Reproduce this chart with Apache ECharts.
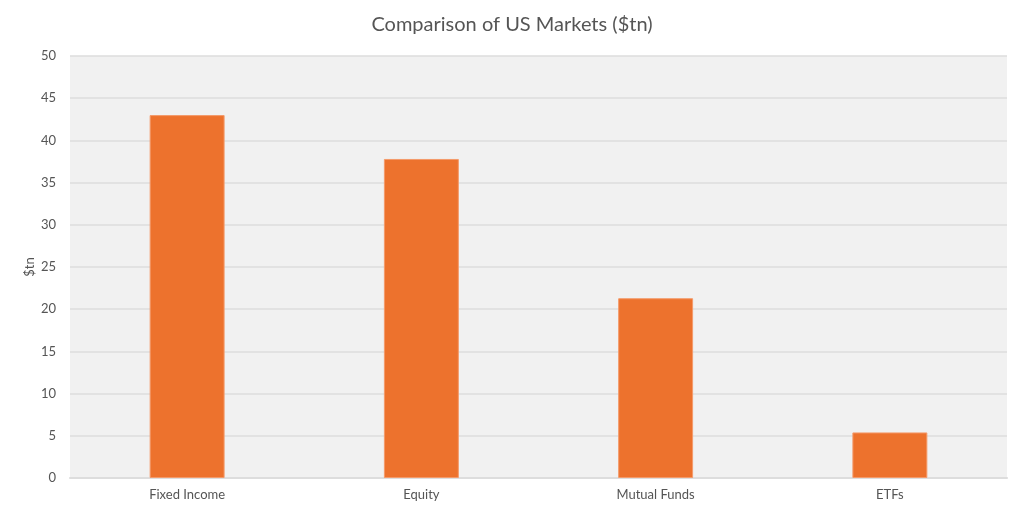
<!DOCTYPE html>
<html lang="en">
<head>
    <meta charset="UTF-8">
    <title>Comparison of US Markets ($tn)</title>
    <script src="https://cdn.jsdelivr.net/npm/echarts@6/dist/echarts.min.js"></script>
    <style>
        html, body { margin: 0; padding: 0; background: #fff; }
        #main { width: 1024px; height: 513px; }
    </style>
</head>
<body>
<div id="main"></div>
<script type="text/javascript">
    // data
    var categories = ['Fixed Income', 'Equity', 'Mutual Funds', 'ETFs'];
    var marketSize = [43.0, 37.8, 21.3, 5.4];

    var myChart = echarts.init(document.getElementById('main'));

    var option = {
        backgroundColor: '#ffffff',
        textStyle: { fontFamily: 'Lato, "Open Sans", sans-serif' },
        title: {
            text: 'Comparison of US Markets ($tn)',
            left: 'center',
            top: 10,
            textStyle: { color: '#555555', fontSize: 20, fontWeight: 'normal' }
        },
        grid: {
            left: 70, right: 17, top: 56, bottom: 35,
            show: true,
            backgroundColor: '#f1f1f1',
            borderWidth: 0
        },
        xAxis: {
            type: 'category',
            data: categories,
            axisLine: { lineStyle: { color: '#dddddd', width: 2 } },
            axisTick: { show: false },
            axisLabel: { color: '#555555', fontSize: 13, margin: 10 }
        },
        yAxis: {
            type: 'value',
            min: 0, max: 50, interval: 5,
            name: '$tn',
            nameLocation: 'middle',
            nameGap: 34,
            nameMoveOverlap: false,
            nameTextStyle: { color: '#555555', fontSize: 13 },
            axisLine: { show: false },
            axisTick: { show: false },
            axisLabel: { color: '#555555', fontSize: 13, margin: 14 },
            splitLine: { lineStyle: { color: '#dcdcdc', width: 1.5 } }
        },
        series: [{
            name: 'US Markets',
            type: 'bar',
            data: marketSize,
            barWidth: '32%',
            itemStyle: { color: '#ed722d', borderColor: '#f49a6a', borderWidth: 1 }
        }]
    };

    myChart.setOption(option);
</script>
</body>
</html>
